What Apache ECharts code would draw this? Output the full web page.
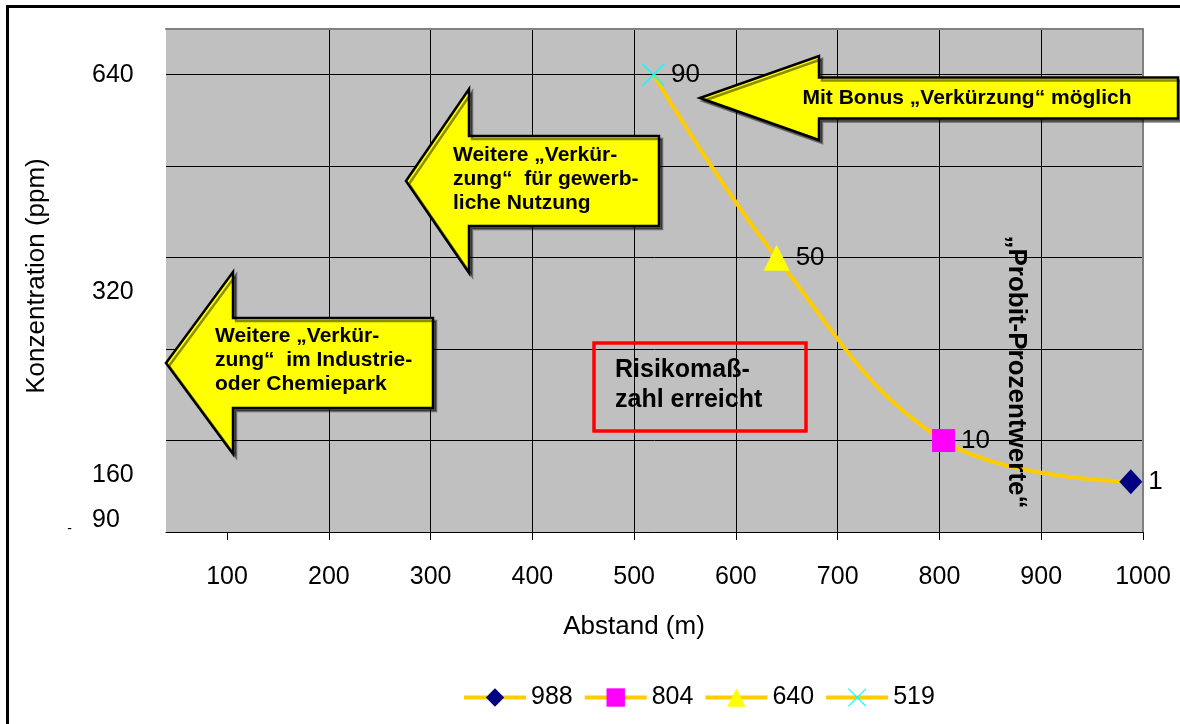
<!DOCTYPE html>
<html>
<head>
<meta charset="utf-8">
<script src="https://cdn.jsdelivr.net/npm/echarts@6/dist/echarts.min.js"></script>
<style>
  html, body { margin: 0; padding: 0; background: #ffffff; }
  #chart { width: 1180px; height: 724px; }
</style>
</head>
<body>
<div id="chart"></div>
<script>
// Distance (m) at which each probit percentage is reached
const seriesNames = ['988', '804', '640', '519'];
const distances = [988, 804, 640, 519];
const probitPercent = [1, 10, 50, 90];

// Distance axis tick values
const xTicks = [100, 200, 300, 400, 500, 600, 700, 800, 900, 1000];
// Concentration labels along the left edge (ppm)
const ppmLabels = ['640', '320', '160', '90'];

const FONT = '"Liberation Sans", Arial, Helvetica, sans-serif';
const LINE_COLOR = '#FFCC00';

// Filled "x" cross used for the 519 m marker
const CROSS = 'path://M0,1L1,0L12,11L23,0L24,1L13,12L24,23L23,24L12,13L1,24L0,23L11,12Z';
const markerSymbols = ['diamond', 'rect', 'triangle', CROSS];
const markerColors = ['#000080', '#FF00FF', '#FFFF00', '#00FFFF'];
const markerSizes = [[23, 25], 23, 26, 23];

const chart = echarts.init(document.getElementById('chart'), null, { renderer: 'canvas' });

// Smoothed curve through all points (ordered by distance)
const curvePoints = distances
  .map((d, i) => [d, probitPercent[i]])
  .sort((a, b) => a[0] - b[0]);

const series = [{
  name: 'curve',
  type: 'line',
  data: curvePoints,
  smooth: 0.4,
  symbol: 'none',
  lineStyle: { color: LINE_COLOR, width: 4 },
  z: 2,
  silent: true
}];

seriesNames.forEach((name, i) => {
  series.push({
    name: name,
    type: 'line',
    data: [[distances[i], probitPercent[i]]],
    symbol: markerSymbols[i],
    symbolSize: markerSizes[i],
    itemStyle: { color: markerColors[i], borderWidth: 0 },
    lineStyle: { color: LINE_COLOR, width: 4 },
    label: {
      show: true,
      position: 'right',
      distance: 6,
      formatter: p => String(p.value[1]),
      fontFamily: FONT,
      fontSize: 26,
      color: '#000'
    },
    z: 4
  });
});

// Block arrow outline pointing left
function leftArrow(tipX, tipY, headX, headHalf, bodyHalf, rightX) {
  return {
    type: 'polygon',
    shape: {
      points: [
        [tipX, tipY], [headX, tipY - headHalf], [headX, tipY - bodyHalf],
        [rightX, tipY - bodyHalf], [rightX, tipY + bodyHalf],
        [headX, tipY + bodyHalf], [headX, tipY + headHalf]
      ]
    },
    style: {
      fill: '#FFFF00', stroke: '#000', lineWidth: 2.5, lineJoin: 'miter',
      shadowColor: 'rgba(0,0,0,0.45)', shadowOffsetX: 3, shadowOffsetY: 3, shadowBlur: 0
    },
    z: 50
  };
}

function boldText(text, x, y, size, align, lh) {
  return {
    type: 'text', x: x, y: y, z: 60,
    style: {
      text: text, fontFamily: FONT, fontWeight: 'bold', fontSize: size,
      lineHeight: lh || size * 1.15, fill: '#000',
      align: align || 'left', verticalAlign: 'middle'
    }
  };
}

const ppmY = [75, 292, 475, 520];
const graphic = [
  // outer frame
  { type: 'rect', shape: { x: 7.5, y: 6.5, width: 1200, height: 740 },
    style: { fill: 'none', stroke: '#000', lineWidth: 3 }, z: 100 },
  // axis titles
  { type: 'text', x: 37, y: 276, rotation: Math.PI / 2, z: 60,
    style: { text: 'Konzentration (ppm)', fontFamily: FONT, fontSize: 26, fill: '#000',
             align: 'center', verticalAlign: 'middle' } },
  { type: 'text', x: 634, y: 627, z: 60,
    style: { text: 'Abstand (m)', fontFamily: FONT, fontSize: 26, fill: '#000',
             align: 'center', verticalAlign: 'middle' } },
  { type: 'text', x: 69.5, y: 529, z: 60,
    style: { text: '-', fontFamily: FONT, fontSize: 14, fill: '#000',
             align: 'center', verticalAlign: 'middle' } },
  // arrows
  leftArrow(700, 98, 819, 42, 20.5, 1178),
  boldText('Mit Bonus \u201EVerk\u00FCrzung\u201C m\u00F6glich', 967, 98, 21, 'center'),
  leftArrow(406, 181, 469, 92, 45, 659),
  boldText('Weitere \u201EVerk\u00FCr-\nzung\u201C  f\u00FCr gewerb-\nliche Nutzung', 453, 179, 21, 'left', 24),
  leftArrow(166, 363, 233, 91, 45, 433),
  boldText('Weitere \u201EVerk\u00FCr-\nzung\u201C  im Industrie-\noder Chemiepark', 215, 360, 21, 'left', 24),
  // risk box
  { type: 'rect', shape: { x: 594, y: 343, width: 212, height: 88 },
    style: { fill: 'none', stroke: '#FF0000', lineWidth: 3.5 }, z: 55 },
  boldText('Risikoma\u00DF-\nzahl erreicht', 615, 385, 25, 'left', 30),
  // vertical note
  { type: 'text', x: 1016, y: 372, rotation: -Math.PI / 2, z: 60,
    style: { text: '\u201EProbit-Prozentwerte\u201C', fontFamily: FONT, fontWeight: 'bold',
             fontSize: 26, fill: '#000', align: 'center', verticalAlign: 'middle' } }
];
ppmLabels.forEach((t, i) => {
  graphic.push({ type: 'text', x: 92, y: ppmY[i], z: 60,
    style: { text: t, fontFamily: FONT, fontSize: 25, fill: '#000',
             align: 'left', verticalAlign: 'middle' } });
});

const option = {
  animation: false,
  backgroundColor: '#ffffff',
  textStyle: { fontFamily: FONT },
  grid: {
    left: 166, right: 37, top: 29, bottom: 192,
    show: true, backgroundColor: '#C0C0C0', borderWidth: 0
  },
  legend: {
    data: seriesNames,
    left: 457, top: 680,
    itemWidth: 62, itemHeight: 23, itemGap: 10,
    lineStyle: { width: 4 },
    textStyle: { fontFamily: FONT, fontSize: 25, color: '#000' }
  },
  xAxis: [{
    type: 'value', position: 'bottom',
    min: 40, max: 1000, splitNumber: 10, minInterval: 100, maxInterval: 100,
    axisLine: { show: true, onZero: false, lineStyle: { color: '#000', width: 1 } },
    axisTick: { show: true, length: 8, customValues: xTicks, lineStyle: { color: '#000', width: 1 } },
    axisLabel: { customValues: xTicks, formatter: v => String(v),
                 fontFamily: FONT, fontSize: 25, color: '#000', margin: 33 },
    splitLine: { show: true, showMinLine: false, lineStyle: { color: '#000', width: 1 } }
  }, {
    type: 'value', position: 'top',
    min: 40, max: 1000,
    axisLine: { show: true, onZero: false, lineStyle: { color: '#808080', width: 2 } },
    axisTick: { show: false }, axisLabel: { show: false }, splitLine: { show: false }
  }],
  yAxis: [{
    type: 'value', position: 'left',
    min: -10, max: 100, interval: 20,
    axisLine: { show: false }, axisTick: { show: false }, axisLabel: { show: false },
    splitLine: { show: true, lineStyle: { color: '#000', width: 1 } }
  }, {
    type: 'value', position: 'right',
    min: -10, max: 100, interval: 20,
    axisLine: { show: true, onZero: false, lineStyle: { color: '#808080', width: 2 } },
    axisTick: { show: false }, axisLabel: { show: false }, splitLine: { show: false }
  }],
  series: series,
  graphic: graphic
};

chart.setOption(option);
</script>
</body>
</html>
